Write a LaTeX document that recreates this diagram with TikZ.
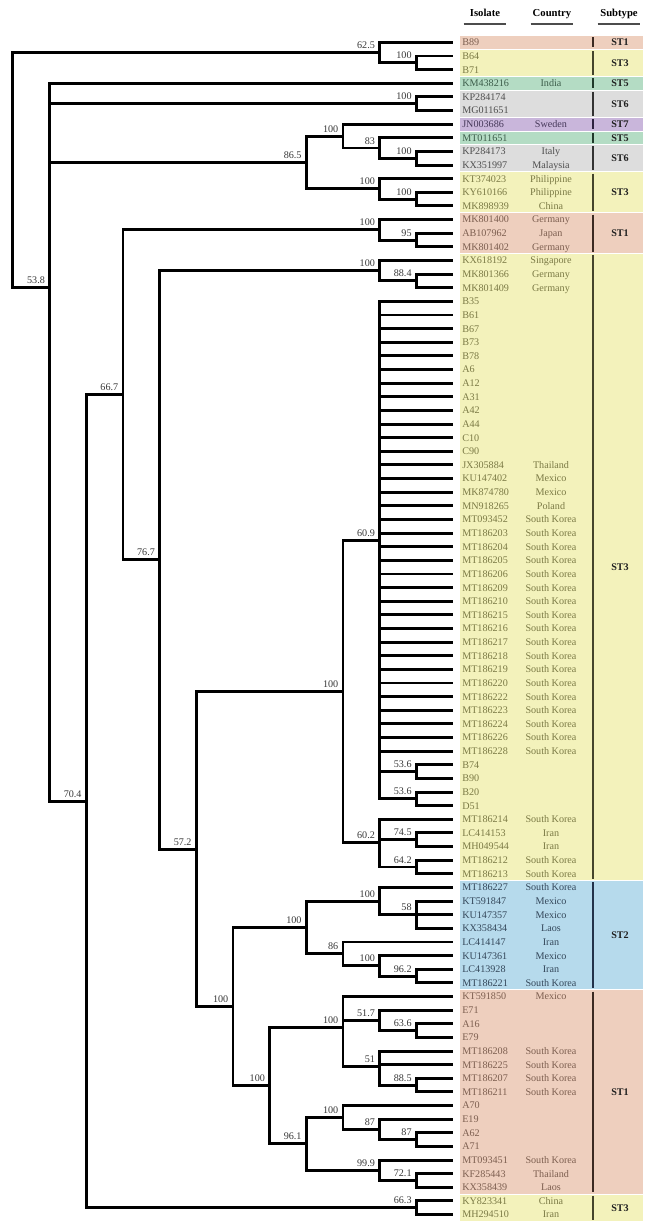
\documentclass[tikz,border=0pt]{standalone}
\usepackage{fontspec}
\setmainfont{Liberation Serif}
\usetikzlibrary{calc}

\definecolor{bg1}{HTML}{EECFBE}
\definecolor{bg2}{HTML}{B6DAEC}
\definecolor{bg3}{HTML}{F3F2BB}
\definecolor{bg5}{HTML}{B4DCC4}
\definecolor{bg6}{HTML}{DDDDDD}
\definecolor{bg7}{HTML}{C9B6DB}
\definecolor{tx1}{HTML}{7D5F50}
\definecolor{tx2}{HTML}{34475A}
\definecolor{tx3}{HTML}{7B7A45}
\definecolor{tx5}{HTML}{3D5E4B}
\definecolor{tx6}{HTML}{4E4E4E}
\definecolor{tx7}{HTML}{46395A}
\definecolor{bar1}{HTML}{3B2A22}
\definecolor{bar2}{HTML}{23324A}
\definecolor{bar3}{HTML}{45452C}
\definecolor{bar5}{HTML}{1F3A2A}
\definecolor{bar6}{HTML}{333333}
\definecolor{bar7}{HTML}{2E2240}

% leaf rows and tree levels, in pixels
\newcommand{\yy}[1]{42.4+13.63*(#1-1)}
\newcommand{\xx}[1]{453-36.67*#1}

\begin{document}
\begin{tikzpicture}[
  x=0.75pt, y=-0.75pt,
  branch/.style={line width=2.2pt, black, line join=miter},
  boot/.style={font=\fontsize{7.6}{8}\selectfont, text=black!78,
    inner sep=0pt, anchor=base east},
  iso/.style={font=\fontsize{7.6}{8}\selectfont, inner sep=0pt, anchor=base west},
  cty/.style={font=\fontsize{7.6}{8}\selectfont, inner sep=0pt, anchor=base},
  subt/.style={font=\bfseries\fontsize{7.6}{8}\selectfont, text=black!88, inner sep=0pt},
  head/.style={font=\bfseries\fontsize{8}{9}\selectfont, inner sep=0pt,
    minimum width=31.5pt, anchor=base},
  uline/.style={line width=1.1pt, black!70},
  band/.style={draw=white, line width=0.6pt},
  stbar/.style={line width=1.9pt}
]
  \useasboundingbox (0,0) rectangle (656,1227);

  % header
  \node[head] (hIso) at (485,17) {Isolate};
  \node[head] (hCty) at (552,17) {Country};
  \node[head] (hSub) at (619,17) {Subtype};
  \foreach \h in {hIso,hCty,hSub}
    \draw[uline] ($(\h.base west)+(0,7)$) -- ($(\h.base east)+(0,7)$);

  % subtype bands, bars and labels
  \foreach \a/\b/\g/\lab in {1/1/1/ST1, 2/3/3/ST3, 4/4/5/ST5, 5/6/6/ST6,
      7/7/7/ST7, 8/8/5/ST5, 9/10/6/ST6, 11/13/3/ST3, 14/16/1/ST1,
      17/62/3/ST3, 63/70/2/ST2, 71/85/1/ST1, 86/87/3/ST3} {
    \filldraw[band, fill=bg\g] (459,{\yy{\a}-6.8}) rectangle (643,{\yy{\b}+6.8});
    \draw[stbar, draw=bar\g] (593,{\yy{\a}-5}) -- (593,{\yy{\b}+5});
    \node[subt] (st\a) at (620,{(\yy{\a}+\yy{\b})/2}) {\lab};
  }

  % leaves
  \foreach \iso/\cty/\g [count=\i] in {
      B89//1, B64//3, B71//3, KM438216/India/5, KP284174//6, MG011651//6,
      JN003686/Sweden/7, MT011651//5, KP284173/Italy/6, KX351997/Malaysia/6,
      KT374023/Philippine/3, KY610166/Philippine/3, MK898939/China/3,
      MK801400/Germany/1, AB107962/Japan/1, MK801402/Germany/1,
      KX618192/Singapore/3, MK801366/Germany/3, MK801409/Germany/3,
      B35//3, B61//3, B67//3, B73//3, B78//3, A6//3, A12//3, A31//3,
      A42//3, A44//3, C10//3, C90//3, JX305884/Thailand/3,
      KU147402/Mexico/3, MK874780/Mexico/3, MN918265/Poland/3,
      MT093452/South Korea/3, MT186203/South Korea/3,
      MT186204/South Korea/3, MT186205/South Korea/3,
      MT186206/South Korea/3, MT186209/South Korea/3,
      MT186210/South Korea/3, MT186215/South Korea/3,
      MT186216/South Korea/3, MT186217/South Korea/3,
      MT186218/South Korea/3, MT186219/South Korea/3,
      MT186220/South Korea/3, MT186222/South Korea/3,
      MT186223/South Korea/3, MT186224/South Korea/3,
      MT186226/South Korea/3, MT186228/South Korea/3,
      B74//3, B90//3, B20//3, D51//3, MT186214/South Korea/3,
      LC414153/Iran/3, MH049544/Iran/3, MT186212/South Korea/3,
      MT186213/South Korea/3, MT186227/South Korea/2, KT591847/Mexico/2,
      KU147357/Mexico/2, KX358434/Laos/2, LC414147/Iran/2,
      KU147361/Mexico/2, LC413928/Iran/2, MT186221/South Korea/2,
      KT591850/Mexico/1, E71//1, A16//1, E79//1, MT186208/South Korea/1,
      MT186225/South Korea/1, MT186207/South Korea/1,
      MT186211/South Korea/1, A70//1, E19//1, A62//1, A71//1,
      MT093451/South Korea/1, KF285443/Thailand/1, KX358439/Laos/1,
      KY823341/China/3, MH294510/Iran/3} {
    \coordinate (t\i) at (453,{\yy{\i}});
    \node[iso, text=tx\g] (iso\i) at (462,{\yy{\i}+3.4}) {\iso};
    \node[cty, text=tx\g] (cty\i) at (551,{\yy{\i}+3.4}) {\cty};
  }

  % inner nodes: name / level / row / support
  \coordinate (root) at ({\xx{12}},{\yy{10.374}});
  \foreach \n/\lv/\k/\bs in {
      nA/2/1.75/62.5, nA1/1/2.5/100, nB/11/18.998/53.8, nB1/1/5.5/100,
      nC/4/9.8125/86.5, nC1/3/7.875/100, nC11/2/8.75/83, nC12/1/9.5/100,
      nC2/2/11.75/100, nC21/1/12.5/100, nD/10/56.679/70.4, nZ/1/86.5/66.3,
      nE/9/26.857/66.7, nE1/2/14.75/100, nE11/1/15.5/95,
      nF/8/38.965/76.7, nF1/2/17.75/100, nF11/1/18.5/88.4,
      nG/7/60.18/57.2, nH/3/48.611/100, nH1/2/37.556/60.9,
      nH11/1/54.5/53.6, nH12/1/56.5/53.6, nH2/2/59.667/60.2,
      nH21/1/59.5/74.5, nH22/1/61.5/64.2, nK/6/71.748/100,
      nS2/4/65.9375/100, nM/2/64/100, nM1/1/65/58, nN/3/67.875/86,
      nN1/2/68.75/100, nN11/1/69.5/96.2, nS1/5/77.559/100,
      nP/3/73.3056/100, nP1/2/72.75/51.7, nP11/1/73.5/63.6,
      nP2/2/76.1667/51, nP21/1/77.5/88.5, nQ/4/81.8125/96.1,
      nQ1/3/79.875/100, nQ11/2/80.75/87, nQ12/1/81.5/87,
      nQ2/2/83.75/99.9, nQ21/1/84.5/72.1} {
    \coordinate (\n) at ({\xx{\lv}},{\yy{\k}});
    \node[boot] (bs-\n) at ({\xx{\lv}-4.5},{\yy{\k}-4}) {\bs};
  }

  % branches
  \foreach \p/\c in {root/nA, root/nB, nA/t1, nA/nA1, nA1/t2, nA1/t3,
      nB/t4, nB/nB1, nB/nC, nB/nD, nB1/t5, nB1/t6, nC/nC1, nC/nC2,
      nC1/t7, nC1/nC11, nC11/t8, nC11/nC12, nC12/t9, nC12/t10,
      nC2/t11, nC2/nC21, nC21/t12, nC21/t13, nD/nE, nD/nZ, nZ/t86, nZ/t87,
      nE/nE1, nE/nF, nE1/t14, nE1/nE11, nE11/t15, nE11/t16,
      nF/nF1, nF/nG, nF1/t17, nF1/nF11, nF11/t18, nF11/t19,
      nG/nH, nG/nK, nH/nH1, nH/nH2, nH1/nH11, nH1/nH12,
      nH11/t54, nH11/t55, nH12/t56, nH12/t57, nH2/t58, nH2/nH21, nH2/nH22,
      nH21/t59, nH21/t60, nH22/t61, nH22/t62, nK/nS2, nK/nS1,
      nS2/nM, nS2/nN, nM/t63, nM/nM1, nM1/t64, nM1/t65, nM1/t66,
      nN/t67, nN/nN1, nN1/t68, nN1/nN11, nN11/t69, nN11/t70,
      nS1/nP, nS1/nQ, nP/t71, nP/nP1, nP/nP2, nP1/t72, nP1/nP11,
      nP11/t73, nP11/t74, nP2/t75, nP2/t76, nP2/nP21, nP21/t77, nP21/t78,
      nQ/nQ1, nQ/nQ2, nQ1/t79, nQ1/nQ11, nQ11/t80, nQ11/nQ12,
      nQ12/t81, nQ12/t82, nQ2/t83, nQ2/nQ21, nQ21/t84, nQ21/t85}
    \draw[branch] (\p) |- (\c);
  \foreach \i in {20,...,53}
    \draw[branch] (nH1) |- (t\i);
\end{tikzpicture}
\end{document}
